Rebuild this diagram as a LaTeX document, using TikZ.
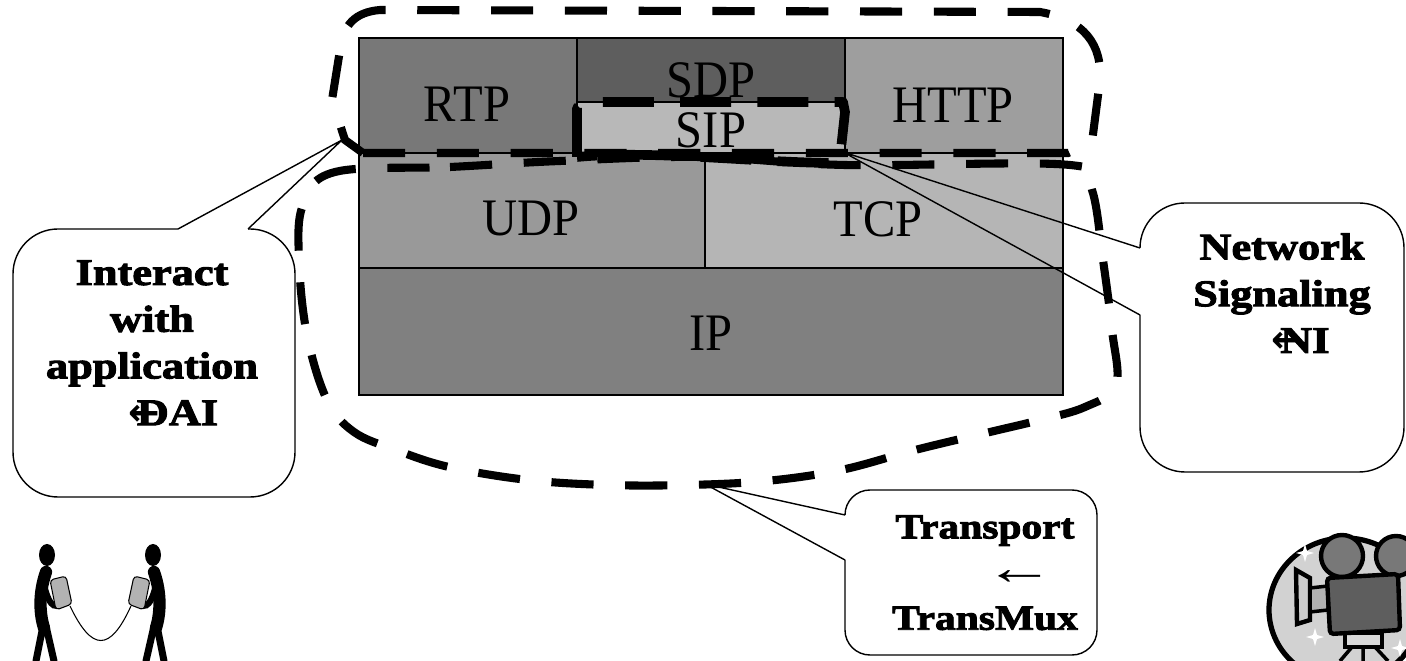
\documentclass[tikz,border=0pt]{standalone}
\usepackage{fontspec}
\setmainfont{Liberation Serif}
\newfontfamily\layerfont[FakeStretch=0.92]{Liberation Serif}
\newfontfamily\callfont[FakeStretch=1.18,BoldFeatures={FakeBold=2.6}]{Liberation Serif}
\newfontfamily\arrowfont{DejaVu Sans}

\definecolor{rtpgray}{gray}{0.47}
\definecolor{sdpgray}{gray}{0.37}
\definecolor{sipgray}{gray}{0.72}
\definecolor{httpgray}{gray}{0.62}
\definecolor{udpgray}{gray}{0.60}
\definecolor{tcpgray}{gray}{0.71}
\definecolor{ipgray}{gray}{0.50}

\tikzset{
  layer/.style={draw=black,line width=1pt},
  proto/.style={inner sep=0pt,font=\layerfont\fontsize{30}{36}\selectfont},
  ring/.style={line width=4.6pt,dash pattern=on 24pt off 18pt},
  sipring/.style={line width=5.5pt,dash pattern=on 29pt off 15pt,line join=round},
  callout/.style={line width=0.8pt,rounded corners=0.9cm},
  note/.style={inner sep=0pt,align=center,
    font=\callfont\bfseries\fontsize{21.4}{26.6}\selectfont}
}

\begin{document}
\begin{tikzpicture}[x=0.02cm,y=-0.02cm]
\clip (0,0) rectangle (1406,661);

% protocol stack
\filldraw[layer,fill=rtpgray] (359,38) rectangle (577,153);
\filldraw[layer,fill=sdpgray] (577,38) rectangle (845,102);
\filldraw[layer,fill=sipgray] (577,102) rectangle (845,153);
\filldraw[layer,fill=httpgray] (845,38) rectangle (1063,153);
\filldraw[layer,fill=udpgray] (359,153) rectangle (705,268);
\filldraw[layer,fill=tcpgray] (705,153) rectangle (1063,268);
\filldraw[layer,fill=ipgray] (359,268) rectangle (1063,395);

\node[proto] (rtp) at (467,104) {RTP};
\node[proto] (sdp) at (711,80) {SDP};
\node[proto] (sip) at (711,130) {SIP};
\node[proto] (http) at (953,105) {HTTP};
\node[proto] (udp) at (531,219) {UDP};
\node[proto] (tcp) at (878,219) {TCP};
\node[proto] (ip) at (711,333) {IP};

% dashed groupings
\draw[ring] (363,153) -- (1068,153) -- (1092,142) -- (1100,80)
  .. controls (1102,45) and (1085,20) .. (1040,12) -- (380,10)
  .. controls (356,12) and (343,24) .. (340,50) -- (332,100) -- (345,140) -- cycle;
\draw[ring] plot[smooth cycle,tension=0.6] coordinates {
  (335,172) (450,167) (560,161) (700,157) (845,165) (1070,165) (1092,190)
  (1103,260) (1112,330) (1116,385) (1085,407) (1040,420) (990,432) (915,450)
  (841,470) (766,481) (687,485) (608,485) (528,480) (449,467) (396,450)
  (354,432) (327,400) (307,335) (299,260) (303,205)};
\draw[sipring] (577,157) -- (577,108) -- (583,102) -- (843,102) -- (845,112)
  -- (840,158) -- (830,163) .. controls (750,162) and (650,150) .. (577,157) -- cycle;

% callouts
\coordinate (aiTip) at (342,140);
\coordinate (aiL) at (178,229);
\coordinate (aiR) at (248,229);
\draw[callout] (aiR) -- (295,229) -- (295,497) -- (13,497) -- (13,229) -- (aiL);
\draw[line width=0.8pt] (aiL) -- (aiTip) -- (aiR);
\node[note,anchor=north] (ai) at (152,260)
  {Interact\\with\\application\\\hspace*{29pt}\rlap{\kern-5pt\arrowfont ←}DAI};

\coordinate (niTip) at (843,152);
\coordinate (niT) at (1140,248);
\coordinate (niB) at (1140,315);
\draw[callout] (niT) -- (1140,203) -- (1404,203) -- (1404,472) -- (1140,472) -- (niB);
\draw[line width=0.8pt] (niT) -- (niTip) -- (niB);
\node[note,anchor=north] (ni) at (1282,233)
  {Network\\Signaling\\\hspace*{26pt}\rlap{\kern-5pt\arrowfont ←}NI};

\coordinate (tmTip) at (705,484);
\coordinate (tmT) at (845,515);
\coordinate (tmB) at (845,560);
\draw[callout,rounded corners=0.5cm] (tmT) -- (845,490) -- (1097,490) -- (1097,655) -- (845,655) -- (tmB);
\draw[line width=0.8pt] (tmT) -- (tmTip) -- (tmB);
\node[note,anchor=north,font=\callfont\bfseries\fontsize{20}{26}\selectfont] (tm) at (985,515)
  {Transport\\\hspace*{40pt}{\mdseries\scalebox{1.7}[1.4]{←}}\\TransMux};

% tin-can telephone
\foreach \s/\o in {1/0,-1/200} {
  \begin{scope}[shift={(\o,0)},xscale=\s]
    \fill (47,555) circle[x radius=8,y radius=11];
    \draw[line width=7pt,line cap=round] (46,572) .. controls (38,595) and (40,615) .. (44,628);
    \draw[line width=4pt,line cap=round] (43,626) -- (36,661) (46,626) -- (54,661);
    \draw[line width=3.5pt,line cap=round] (44,585) .. controls (50,610) and (58,610) .. (62,598);
    \filldraw[fill=gray!60,line width=0.6pt,rounded corners=2pt] (50,580) -- (66,576) -- (72,604) -- (56,610) -- cycle;
  \end{scope}
}
\draw[line width=0.6pt] (70,606) .. controls (92,652) and (110,652) .. (131,606);

% movie camera
\filldraw[fill=gray!35,line width=3pt] (1345,610) circle[x radius=76,y radius=72];
\foreach \x/\y in {1305/553,1315/637,1400/648} {
  \fill[white] (\x,\y) ++(0,-9) -- ++(2,7) -- ++(7,2) -- ++(-7,2) -- ++(-2,7)
    -- ++(-2,-7) -- ++(-7,-2) -- ++(7,-2) -- cycle;
}
\filldraw[fill=rtpgray,line width=2.5pt] (1342,556) circle (21);
\filldraw[fill=rtpgray,line width=2.5pt] (1396,556) circle (20);
\filldraw[fill=gray!40,line width=2.5pt] (1296,570) -- (1310,578) -- (1310,620) -- (1297,624) -- cycle;
\filldraw[fill=gray!60,line width=2pt] (1310,588) -- (1328,586) -- (1328,610) -- (1310,612) -- cycle;
\filldraw[fill=gray!30,line width=2pt] (1345,633) rectangle (1382,647);
\filldraw[fill=sdpgray,line width=2.5pt,rounded corners=2pt] (1327,578) -- (1398,574) -- (1400,630) -- (1330,634) -- cycle;
\draw[line width=2pt] (1352,647) -- (1340,661) (1363,647) -- (1363,661) (1375,647) -- (1388,661);
\end{tikzpicture}
\end{document}
